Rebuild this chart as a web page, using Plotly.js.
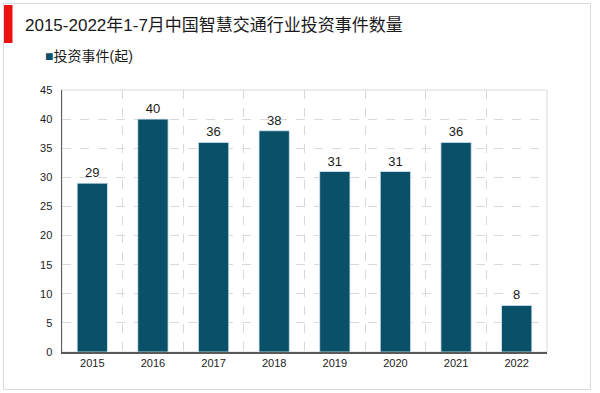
<!DOCTYPE html>
<html><head><meta charset="utf-8">
<script src="https://cdn.plot.ly/plotly-3.0.1.min.js"></script>
<style>html,body{margin:0;padding:0;background:#fff}#c{width:600px;height:393px}</style>
</head><body><div id="c"></div>
<script>
const years = [2015, 2016, 2017, 2018, 2019, 2020, 2021, 2022];
const yearLabels = ['2015','2016','2017','2018','2019','2020','2021','2022'];
const events = [29, 40, 36, 38, 31, 31, 36, 8];
const seriesName = '投资事件(起)';
const titleText = '2015-2022年1-7月中国智慧交通行业投资事件数量';
const barColor = '#0b5069';

const W = 600, H = 393, L = 62, R = 53, T = 90, B = 41;
const pw = W - L - R, ph = H - T - B;
const px = v => (v - L) / pw;
const py = v => (H - B - v) / ph;
const font = 'Liberation Sans, Arial, Noto Sans CJK SC, sans-serif';

const trace = {
  type: 'bar', x: years, y: events, name: seriesName, showlegend: false,
  marker: {color: barColor, line: {color: '#d6eaf1', width: 0.8}},
  width: 0.5,
  text: events.map(String), textposition: 'outside', cliponaxis: false,
  textfont: {family: font, size: 13, color: '#1a1a1a'}
};
const layout = {
  width: W, height: H,
  margin: {l: L, r: R, t: T, b: B},
  paper_bgcolor: '#fff', plot_bgcolor: '#fff',
  font: {family: font, color: '#222'},
  title: {text: titleText, x: 25/W, xanchor: 'left', xref: 'container', y: 1 - 25/H, yanchor: 'middle', yref: 'container',
          font: {family: font, size: 17, color: '#1a1a1a'}},
  showlegend: false,
  annotations: [
    {xref: 'paper', yref: 'paper', x: px(43), y: py(56), xanchor: 'left', yanchor: 'middle', showarrow: false,
     text: '<span style="color:' + barColor + ';font-size:14px">■</span>' + seriesName,
     font: {family: font, size: 14, color: '#1a1a1a'}}
  ],
  xaxis: {type: 'linear', range: [years[0]-0.5, years[years.length-1]+0.5], tickvals: years, ticktext: yearLabels,
          showgrid: false, zeroline: false, showline: true, linecolor: '#595959', linewidth: 1.5, ticks: '',
          tickfont: {family: font, size: 11, color: '#222'},
          minor: {tickmode: 'linear', tick0: years[0]-0.5, dtick: 1, showgrid: true, gridcolor: '#d9d9d9', griddash: 'dash', gridwidth: 1, ticks: ''}},
  yaxis: {range: [0, 45], dtick: 5, showgrid: true, gridcolor: '#d9d9d9', griddash: 'dash', gridwidth: 1,
          zeroline: false, showline: true, linecolor: '#595959', linewidth: 1.5, ticks: '', ticklabelstandoff: 6,
          tickfont: {family: font, size: 11, color: '#222'}},
  bargap: 0.5,
  shapes: [
    {type: 'rect', xref: 'paper', yref: 'paper', x0: 0, x1: 1, y0: 0, y1: 1, line: {color: '#d9d9d9', width: 1}, layer: 'below'},
    {type: 'rect', xref: 'paper', yref: 'paper', x0: px(3.5), x1: px(590.5), y0: py(389.5), y1: py(3.5), line: {color: '#d9d9d9', width: 1}, layer: 'below'},
    {type: 'rect', xref: 'paper', yref: 'paper', x0: px(4), x1: px(12.5), y0: py(43), y1: py(5), fillcolor: '#ee1111', line: {width: 0}, layer: 'above'}
  ]
};
Plotly.newPlot('c', [trace], layout, {displayModeBar: false, staticPlot: true});
</script></body></html>
